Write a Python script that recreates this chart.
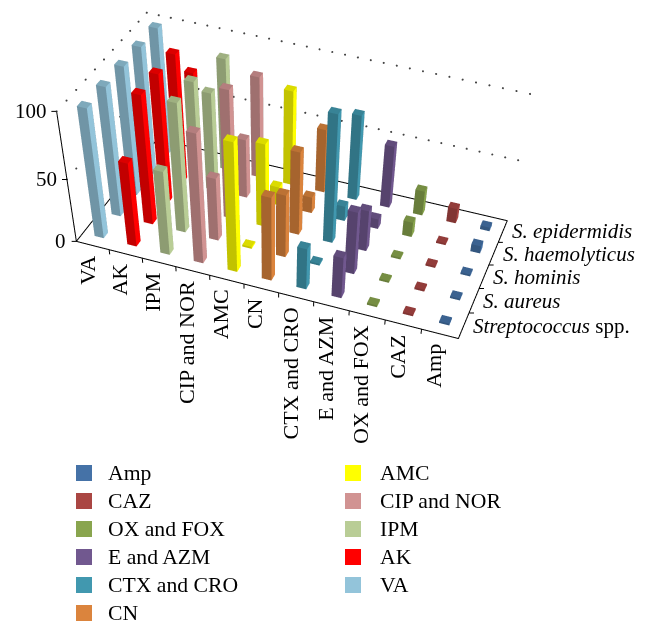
import numpy as np, plotly.graph_objects as go

categories = ["VA","AK","IPM","CIP and NOR","AMC","CN","CTX and CRO","E and AZM","OX and FOX","CAZ","Amp"]
organisms = ["<i>Streptococcus</i> spp.","<i>S. aureus</i>","<i>S. hominis</i>","<i>S. haemolyticus</i>","<i>S. epidermidis</i>"]
VA=[100,100,100,100,100]
AK=[66,100,100,100,72]
IPM=[66,100,100,77,88]
CIP_NOR=[100,50,100,47,80]
AMC=[100,1.5,66,15,75]
CN=[66,50,66,13,51]
CTX_CRO=[33,1.5,100,12,68]
E_AZM=[33,50,33,8,50]
OX_FOX=[1.5,1.5,1.5,12,20]
CAZ=[1.5,1.5,1.5,1.5,12]
Amp=[1.5,1.5,1.5,6,3]
values=[VA,AK,IPM,CIP_NOR,AMC,CN,CTX_CRO,E_AZM,OX_FOX,CAZ,Amp]
colors=["#93C4DA","#FF0000","#B9CD96","#D19392","#FFFF00","#DB843D","#4198AF","#71588F","#89A54E","#AA4643","#4572A7"]
zticks=[0,50,100]
legend_left=["Amp","CAZ","OX and FOX","E and AZM","CTX and CRO","CN"]
legend_right=["AMC","CIP and NOR","IPM","AK","VA"]

W,HH=648,1000
BW,BD=0.14,0.125
def shade(h,k):
    v=[int(h[i:i+2],16) for i in (1,3,5)]
    return "rgb(%d,%d,%d)"%tuple(round(a*k) for a in v)
fig=go.Figure()
for ci,(vals,col) in enumerate(zip(values,colors)):
    X,Y,Z,I,J,K,FC=[],[],[],[],[],[],[]
    for oi,v in enumerate(vals):
        cx,cy=ci+.5,oi+.5;b=len(X)
        for z in (0,v):
            for dx,dy in ((-1,-1),(1,-1),(1,1),(-1,1)):
                X.append(cx+dx*BW);Y.append(cy+dy*BD);Z.append(z)
        faces=[((0,1,5),.76),((0,5,4),.76),((1,2,6),1),((1,6,5),1),((4,5,6),.86),((4,6,7),.86),((2,3,7),.7),((2,7,6),.7),((3,0,4),.7),((3,4,7),.7)]
        for (a,bb,cc),k in faces:
            I.append(b+a);J.append(b+bb);K.append(b+cc);FC.append(shade(col,k))
    fig.add_trace(go.Mesh3d(x=X,y=Y,z=Z,i=I,j=J,k=K,facecolor=FC,flatshading=True,hoverinfo="skip",
        lighting=dict(ambient=1,diffuse=0,specular=0,fresnel=0,roughness=1),showscale=False))
def line(xs,ys,zs,width=2):
    fig.add_trace(go.Scatter3d(x=xs,y=ys,z=zs,mode="lines",line=dict(color="black",width=width),hoverinfo="skip",showlegend=False))
nx,ny=len(categories),len(organisms)
line([0,nx,nx,0,0],[0,0,ny,ny,0],[0,0,0,0,0])
line([0,0],[0,0],[0,100])
for zv in zticks[1:]:
    ys=np.linspace(0,ny,11);xs=np.linspace(0,nx,31)[1:]
    gx=[0]*11+xs.tolist();gy=ys.tolist()+[ny]*30;gz=[zv]*41
    fig.add_trace(go.Scatter3d(x=gx,y=gy,z=gz,mode="markers",marker=dict(color="#444444",size=1.2,line=dict(width=0)),hoverinfo="skip",showlegend=False))
for zv in zticks: line([0,-.12],[0,-.046],[zv,zv])
for i in range(1,nx): line([i,i],[0,0],[0,-4])
for j in range(1,ny): line([nx,nx+.124],[j,j+.047],[0,0])
ann=[]
serif="Liberation Serif"
for i,c_ in enumerate(categories):
    ann.append(dict(x=i+.5,y=0,z=0,text=c_,textangle=-90,showarrow=False,xanchor="center",yanchor="top",xshift=-6,yshift=-8,font=dict(family=serif,size=22,color="black")))
for j,o in enumerate(organisms):
    ann.append(dict(x=nx,y=j+.5,z=0,text=o,showarrow=False,xanchor="left",yanchor="middle",xshift=7,yshift=0,font=dict(family=serif,size=21,color="black")))
for zv in zticks:
    ann.append(dict(x=0,y=0,z=zv,text=str(zv),showarrow=False,xanchor="right",yanchor="middle",xshift=-8,font=dict(family=serif,size=21,color="black")))
ax=dict(visible=False,showbackground=False,showgrid=False,zeroline=False,showticklabels=False,title="")
lut=dict(zip(categories,colors))
shapes=[];pann=[]
for names,x0,xt_ in ((legend_left,76,106),(legend_right,345,378)):
    for r_,n in enumerate(names):
        yc=473+28*r_
        shapes.append(dict(type="rect",xref="paper",yref="paper",x0=x0/W,x1=(x0+16)/W,y0=1-(yc-8)/HH,y1=1-(yc+8)/HH,fillcolor=lut[n],line=dict(width=0)))
        pann.append(dict(xref="paper",yref="paper",x=xt_/W,y=1-yc/HH,text=n,showarrow=False,xanchor="left",yanchor="middle",font=dict(family=serif,size=21.7,color="black")))
fig.update_layout(width=W,height=HH,margin=dict(l=0,r=0,t=0,b=0),showlegend=False,paper_bgcolor="white",
    scene=dict(domain=dict(x=[0,1],y=[0,1]),xaxis=dict(ax,range=[-.5,11.5]),yaxis=dict(ax,range=[-.5,5.5]),zaxis=dict(ax,range=[-10,110]),
        aspectmode="manual",aspectratio=dict(x=1,y=0.5405,z=0.4042),
        camera=dict(eye=dict(x=0.7773,y=-2.1966,z=1.5873),center=dict(x=0.2400,y=-0.4467,z=-0.5570),up=dict(x=-0.2709,y=0.7114,z=0.6484),projection=dict(type="perspective")),
        annotations=ann),
    shapes=shapes,annotations=pann)
fig.write_html("out.html",config=dict(displayModeBar=False),post_script="document.body.style.margin='0';document.documentElement.style.overflow='hidden';document.body.style.overflow='hidden';")
